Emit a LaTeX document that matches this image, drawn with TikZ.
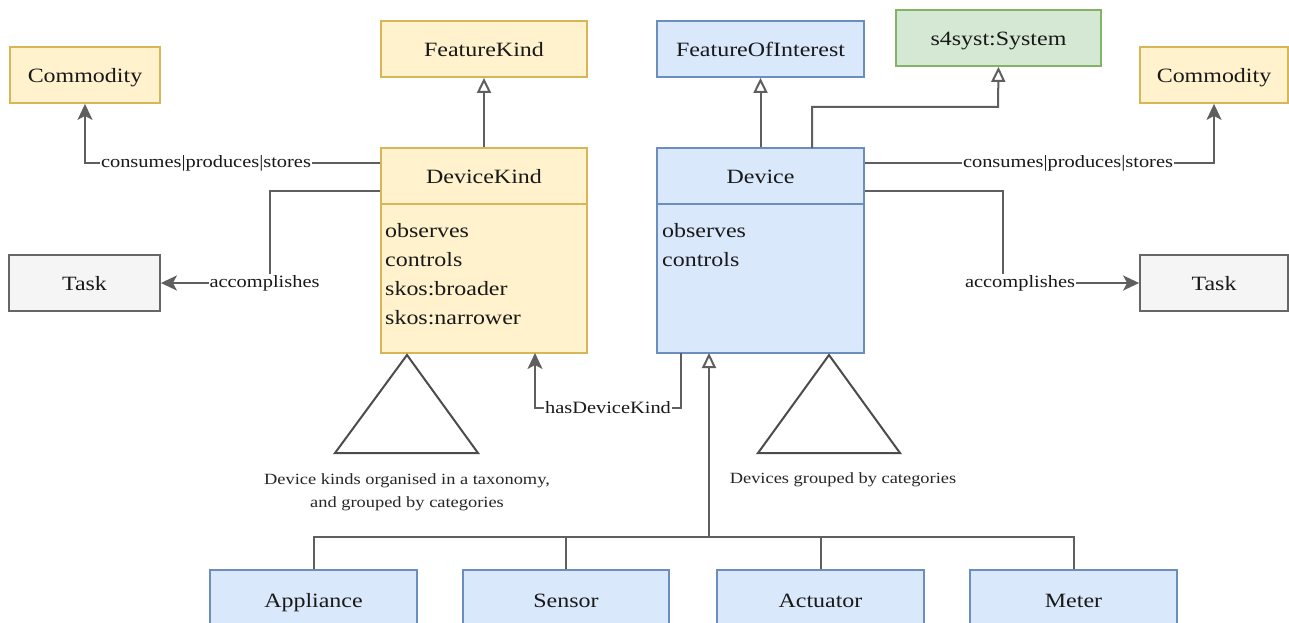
\documentclass[tikz,border=0pt]{standalone}
\usepackage{fontspec}
\setmainfont{Liberation Serif}[FakeStretch=1.18]
\usetikzlibrary{arrows.meta}
\definecolor{yfill}{HTML}{FFF2CC}
\definecolor{ydraw}{HTML}{D6B656}
\definecolor{bfill}{HTML}{DAE8FC}
\definecolor{bdraw}{HTML}{6C8EBF}
\definecolor{gfill}{HTML}{D5E8D4}
\definecolor{gdraw}{HTML}{82B366}
\definecolor{tfill}{HTML}{F5F5F5}
\definecolor{tdraw}{HTML}{666666}
\definecolor{conn}{HTML}{5F5F5F}
\tikzset{
  box/.style={draw, line width=1.8pt, minimum height=56pt, inner sep=0pt, text height=18pt, text depth=2.5pt, font=\fontsize{20.3}{24}\selectfont, text=black!90},
  ybox/.style={box, fill=yfill, draw=ydraw},
  bbox/.style={box, fill=bfill, draw=bdraw},
  gbox/.style={box, fill=gfill, draw=gdraw},
  tbox/.style={box, fill=tfill, draw=tdraw},
  link/.style={draw=conn, line width=2pt, -{Stealth[length=16pt,width=15pt,inset=4pt]}},
  gen/.style={draw=conn, line width=2pt, -{Triangle[open,length=15pt,width=14pt,fill=white]}},
  plain/.style={draw=conn, line width=2pt},
  lab/.style={fill=white, inner sep=1pt, font=\fontsize{17.3}{20}\selectfont, text=black!90},
  captxt/.style={inner sep=0pt, align=center, font=\fontsize{15.6}{23}\selectfont, text=black!85},
  attr/.style={inner sep=0pt, align=left, font=\fontsize{20.3}{29}\selectfont, text=black!90},
  tri/.style={draw=black!70, line width=2pt, line join=miter},
}
\begin{document}
\begin{tikzpicture}[x=1pt,y=-1pt]
\clip (0,0) rectangle (1289,623);
\fill[white] (0,0) rectangle (1289,623);
% top boxes
\node[ybox, minimum width=150pt] (commL) at (85,75) {Commodity};
\node[ybox, minimum width=206pt] (fk) at (484,49) {FeatureKind};
\node[bbox, minimum width=207pt] (foi) at (760.5,49) {FeatureOfInterest};
\node[gbox, minimum width=205pt] (sys) at (998.5,38) {s4syst:System};
\node[ybox, minimum width=148pt] (commR) at (1214,75) {Commodity};
% class boxes
\node[ybox, minimum width=206pt] (dk) at (484,176) {DeviceKind};
\node[ybox, minimum width=206pt, minimum height=149pt] (dkbody) at (484,278.5) {};
\node[bbox, minimum width=207pt] (dev) at (760.5,176) {Device};
\node[bbox, minimum width=207pt, minimum height=149pt] (devbody) at (760.5,278.5) {};
\node[attr, anchor=north west] (dkattr) at (385,223) {observes\\controls\\skos:broader\\skos:narrower};
\node[attr, anchor=north west] (devattr) at (662,223) {observes\\controls};
% task boxes
\node[tbox, minimum width=151pt] (taskL) at (84.5,283) {Task};
\node[tbox, minimum width=148pt] (taskR) at (1214,283) {Task};
% children
\node[bbox, minimum width=207pt, minimum height=60pt] (app) at (313.5,600) {Appliance};
\node[bbox, minimum width=206pt, minimum height=60pt] (sen) at (566,600) {Sensor};
\node[bbox, minimum width=207pt, minimum height=60pt] (act) at (820.5,600) {Actuator};
\node[bbox, minimum width=207pt, minimum height=60pt] (met) at (1073.5,600) {Meter};
% generalizations
\draw[gen] (dk.north) -- (fk.south);
\draw[gen] (dev.north) -- (foi.south);
\coordinate (devtop) at (812,148);
\draw[gen] (devtop) |- (998,107) -- (sys.south);
% consumes|produces|stores
\draw[link] ([yshift=13pt]dk.west) -| (commL.south);
\node[lab] (cpsL) at (206,163) {consumes|produces|stores};
\draw[link] ([yshift=13pt]dev.east) -| (commR.south);
\node[lab] (cpsR) at (1068,163) {consumes|produces|stores};
% accomplishes
\draw[link] ([yshift=-15pt]dk.west) -| (270,283) -- (taskL.east);
\node[lab] (accL) at (264.5,283) {accomplishes};
\draw[link] ([yshift=-15pt]dev.east) -| (1003,283) -- (taskR.west);
\node[lab] (accR) at (1020,283) {accomplishes};
% hasDeviceKind
\coordinate (hdkA) at (681,353);
\coordinate (hdkB) at (535,353);
\draw[link] (hdkA) |- (608,408) -| (hdkB);
\node[lab] (hdk) at (608,408) {hasDeviceKind};
% subclass tree
\coordinate (bus) at (709,537);
\coordinate (devbot) at (709,353);
\draw[gen] (bus) -- (devbot);
\draw[plain] (app.north) |- (bus);
\draw[plain] (sen.north) |- (bus);
\draw[plain] (act.north) |- (bus);
\draw[plain] (met.north) |- (bus);
% taxonomy triangles
\draw[tri] (407,355) -- (478,453) -- (335,453) -- cycle;
\draw[tri] (829,355) -- (900,453) -- (758,453) -- cycle;
\node[captxt] (capL) at (407,492) {Device kinds organised in a taxonomy,\\and grouped by categories};
\node[captxt] (capR) at (843,480) {Devices grouped by categories};
\end{tikzpicture}
\end{document}
